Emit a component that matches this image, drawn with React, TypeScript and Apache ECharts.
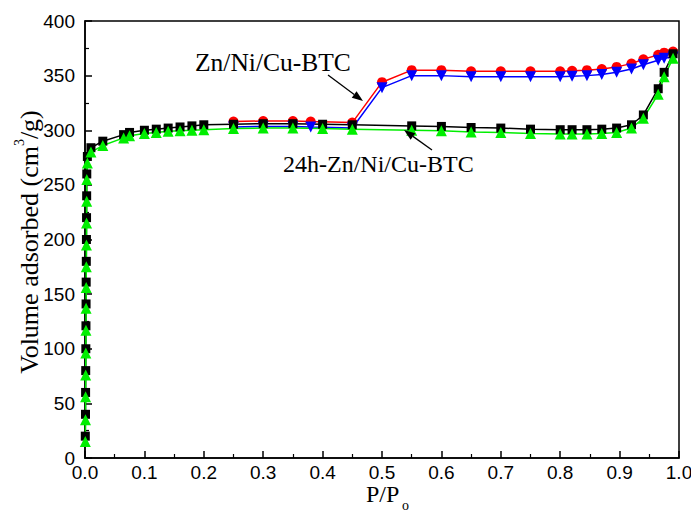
import React, { useEffect, useRef } from "react";
import * as echarts from "echarts";

// Relative pressure (P/Po) for the 24h-Zn/Ni/Cu-BTC isotherms
const p24: number[] = [
  0.0005, 0.0008, 0.001, 0.0012, 0.0014, 0.0016, 0.0018, 0.002, 0.0022, 0.0024, 0.0026, 0.0028, 0.003, 0.004,
  0.01, 0.03, 0.065, 0.075, 0.1, 0.12, 0.14, 0.16, 0.18, 0.2,
  0.25, 0.3, 0.35, 0.4, 0.45, 0.55, 0.6, 0.65, 0.7, 0.75, 0.8, 0.82, 0.845, 0.87, 0.895, 0.92, 0.94, 0.965, 0.975, 0.99,
];
// 24h-Zn/Ni/Cu-BTC (black squares)
const blackVals: number[] = [
  20, 40, 60, 80, 100, 121, 141, 161, 180, 200, 220, 240, 260, 276,
  284, 290, 296, 298, 300, 301, 302, 303, 304, 305,
  305.5, 306, 306, 305.5, 305, 304, 303.5, 302.5, 302, 301, 300.5, 300.5, 300.5, 301, 302, 305, 314, 338, 353, 370,
];
// 24h-Zn/Ni/Cu-BTC (green triangles)
const greenVals: number[] = [
  15, 35, 56, 76, 96, 117, 137, 156, 175, 195, 215, 235, 255, 270,
  280, 286, 293, 295, 297, 298, 299, 299.5, 300, 300.5,
  301.5, 302, 302, 301.5, 301, 300, 299.5, 298.5, 298, 297, 296.5, 296.5, 296.5, 297, 298, 302, 311, 333, 349, 366,
];
// Relative pressure for Zn/Ni/Cu-BTC
const pZn: number[] = [
  0.25, 0.3, 0.35, 0.38, 0.45, 0.5, 0.55, 0.6, 0.65, 0.7, 0.75, 0.8, 0.82, 0.845, 0.87, 0.895, 0.92, 0.94, 0.965, 0.975, 0.99,
];
// Zn/Ni/Cu-BTC (red circles)
const redVals: number[] = [
  308, 308.5, 308.5, 308, 307, 344, 355, 355, 354, 354, 354, 354, 354.5, 355, 356, 358, 361, 365, 369, 371, 372,
];
// Zn/Ni/Cu-BTC (blue down triangles)
const blueVals: number[] = [
  303, 303.5, 303.5, 303, 302, 339, 350, 350, 349, 349, 349, 349, 349.5, 350, 351, 353, 356, 360, 364, 366, 367,
];

const xTicks = { min: 0, max: 1.0, interval: 0.1 };
const yTicks = { min: 0, max: 400, interval: 50 };

const labelZn = "Zn/Ni/Cu-BTC";
const label24 = "24h-Zn/Ni/Cu-BTC";

function pair(xs: number[], ys: number[]) {
  return xs.map((x, i) => [x, ys[i]]);
}

function arrow(x1: number, y1: number, x2: number, y2: number) {
  const dx = x2 - x1;
  const dy = y2 - y1;
  const len = Math.sqrt(dx * dx + dy * dy);
  const ux = dx / len;
  const uy = dy / len;
  const hl = 11;
  const hw = 4;
  const bx = x2 - ux * hl;
  const by = y2 - uy * hl;
  return [
    {
      type: "line",
      shape: { x1, y1, x2: bx, y2: by },
      style: { stroke: "#000", lineWidth: 1.3 },
      z: 100,
    },
    {
      type: "polygon",
      shape: {
        points: [
          [x2, y2],
          [bx - uy * hw, by + ux * hw],
          [bx + uy * hw, by - ux * hw],
        ],
      },
      style: { fill: "#000" },
      z: 100,
    },
  ];
}

export default function App() {
  const ref = useRef<HTMLDivElement>(null);
  useEffect(() => {
    if (!ref.current) return;
    const chart = echarts.init(ref.current, undefined, { renderer: "svg" });
    const serif = "Liberation Serif";
    const sans = "Liberation Sans";
    const lineSeries = (name: string, data: number[][], color: string, symbol: string, size: number, rotate = 0) => ({
      name,
      type: "line",
      data,
      symbol,
      symbolSize: size,
      symbolRotate: rotate,
      lineStyle: { color, width: 1.5 },
      itemStyle: { color, borderWidth: 0 },
      showSymbol: true,
    });
    chart.setOption({
      animation: false,
      backgroundColor: "#fff",
      grid: {
        left: 85,
        right: 12,
        top: 21,
        bottom: 56,
        outerBoundsMode: "none",
        containLabel: false,
        show: true,
        borderColor: "#000",
        borderWidth: 1.5,
        backgroundColor: "transparent",
      },
      xAxis: {
        type: "value",
        min: xTicks.min,
        max: xTicks.max,
        interval: xTicks.interval,
        axisLine: { show: true, lineStyle: { color: "#000", width: 1.5 } },
        axisTick: { show: true, inside: true, length: 7, lineStyle: { color: "#000", width: 1.5 } },
        minorTick: { show: true, splitNumber: 2, length: 4, lineStyle: { color: "#000", width: 1.2 } },
        splitLine: { show: false },
        axisLabel: {
          color: "#000",
          fontFamily: sans,
          fontSize: 19,
          margin: 5,
          formatter: (v: number) => v.toFixed(1),
        },
      },
      yAxis: {
        type: "value",
        min: yTicks.min,
        max: yTicks.max,
        interval: yTicks.interval,
        axisLine: { show: true, lineStyle: { color: "#000", width: 1.5 } },
        axisTick: { show: true, inside: true, length: 7, lineStyle: { color: "#000", width: 1.5 } },
        minorTick: { show: true, splitNumber: 2, length: 4, lineStyle: { color: "#000", width: 1.2 } },
        splitLine: { show: false },
        axisLabel: { color: "#000", fontFamily: sans, fontSize: 19, margin: 10 },
      },
      graphic: [
        {
          type: "text",
          x: 27,
          y: 242,
          rotation: Math.PI / 2,
          style: {
            text: "{a|Volume adsorbed (cm}{sup|3}{a|/g)}",
            align: "center",
            verticalAlign: "middle",
            rich: {
              a: { fontFamily: serif, fontSize: 26, fill: "#000", lineHeight: 30, verticalAlign: "bottom" },
              sup: { fontFamily: serif, fontSize: 14, fill: "#000", lineHeight: 30, verticalAlign: "top", padding: [0, 0, 10, 0] },
            },
          },
        },
        {
          type: "text",
          left: 366,
          top: 482,
          style: { text: "P/P", fontFamily: serif, fontSize: 24, fill: "#000" },
        },
        {
          type: "text",
          left: 402,
          top: 498,
          style: { text: "o", fontFamily: serif, fontSize: 14, fill: "#000" },
        },
        {
          type: "text",
          left: 195,
          top: 49,
          style: { text: labelZn, fontFamily: serif, fontSize: 25.5, fill: "#000" },
        },
        {
          type: "text",
          left: 283,
          top: 152,
          style: { text: label24, fontFamily: serif, fontSize: 24, fill: "#000" },
        },
        ...arrow(328, 75, 363, 101),
        ...arrow(432, 150, 404, 130),
      ],
      series: [
        lineSeries("Zn/Ni/Cu-BTC des", pair(pZn, redVals), "#ff0000", "circle", 10),
        lineSeries("Zn/Ni/Cu-BTC ads", pair(pZn, blueVals), "#0000ff", "triangle", 11, 180),
        lineSeries("24h des", pair(p24, blackVals), "#000000", "rect", 9),
        lineSeries("24h ads", pair(p24, greenVals), "#00ee00", "triangle", 11),
      ],
    });
    return () => chart.dispose();
  }, []);
  return (
    <div
      ref={ref}
      style={{ position: "fixed", left: 0, top: 0, width: 691, height: 514, background: "#fff" }}
    />
  );
}
